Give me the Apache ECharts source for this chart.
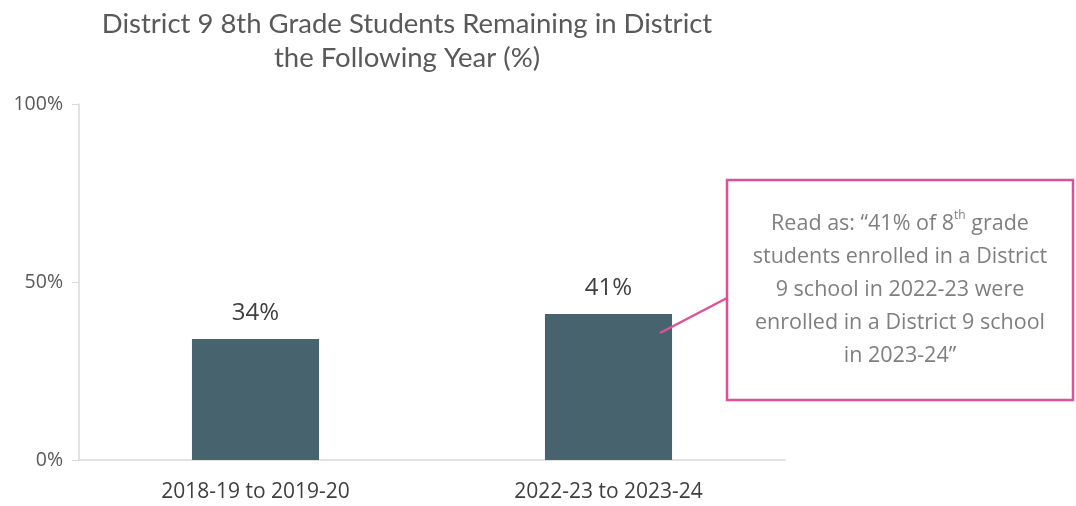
<!DOCTYPE html>
<html><head><meta charset="utf-8">
<script src="https://cdn.jsdelivr.net/npm/echarts@6/dist/echarts.min.js"></script>
<style>html,body{margin:0;padding:0;background:#fff}#c{width:1076px;height:506px}</style>
</head><body><div id="c"></div>
<script>
const categories = ['2018-19 to 2019-20', '2022-23 to 2023-24'];
const values = [34, 41];
const yTicks = [0, 50, 100];
const titleText = 'District 9 8th Grade Students Remaining in District\nthe Following Year (%)';
const FONT = 'Lato, sans-serif';
const FONT2 = '"Open Sans", sans-serif';

const chart = echarts.init(document.getElementById('c'));
chart.setOption({
  animation: false,
  title: {
    text: titleText, left: 402, top: 2, textAlign: 'center',
    textStyle: { fontFamily: FONT, fontSize: 27.5, fontWeight: 'normal', color: '#595959', lineHeight: 34 }
  },
  grid: { left: 79, right: 291, top: 104, bottom: 46 },
  xAxis: {
    type: 'category', data: categories,
    axisLine: { lineStyle: { color: '#d9d9d9', width: 1.5 } },
    axisTick: { show: false },
    axisLabel: { fontFamily: FONT2, fontSize: 21, color: '#404040', margin: 22 }
  },
  yAxis: {
    type: 'value', min: 0, max: 100, interval: 50,
    axisLine: { show: true, lineStyle: { color: '#d9d9d9', width: 1.5 } },
    axisTick: { show: true, length: 7, lineStyle: { color: '#d9d9d9' } },
    splitLine: { show: false },
    axisLabel: { fontFamily: FONT2, fontSize: 19.5, color: '#595959', margin: 16,
      formatter: v => yTicks.includes(v) ? v + '%' : '' }
  },
  series: [{
    type: 'bar', data: values, barWidth: '36%',
    itemStyle: { color: '#47636e' },
    label: { show: true, position: 'top', distance: 14, formatter: '{c}%',
      fontFamily: FONT2, fontSize: 24, color: '#404040' }
  }],
  graphic: [
    { type: 'line', z: 100, shape: { x1: 660, y1: 333, x2: 727, y2: 298 },
      style: { stroke: '#e0509a', lineWidth: 2.5 } },
    { type: 'rect', z: 100, shape: { x: 727, y: 180, width: 346, height: 220 },
      style: { fill: '#fff', stroke: '#e0509a', lineWidth: 2.5 } },
    { type: 'text', z: 101, x: 900, y: 290,
      style: {
        text: 'Read as: “41% of 8{sup|th} grade\nstudents enrolled in a District\n9 school in 2022-23 were\nenrolled in a District 9 school\nin 2023-24”',
        align: 'center', verticalAlign: 'middle',
        fontFamily: FONT2, fontSize: 21.5, fill: '#7f7f7f', lineHeight: 33,
        rich: { sup: { fontSize: 12, verticalAlign: 'top', padding: [2,0,0,0], fill: '#7f7f7f', fontFamily: FONT2, lineHeight: 22 } }
      } }
  ]
});
</script></body></html>
